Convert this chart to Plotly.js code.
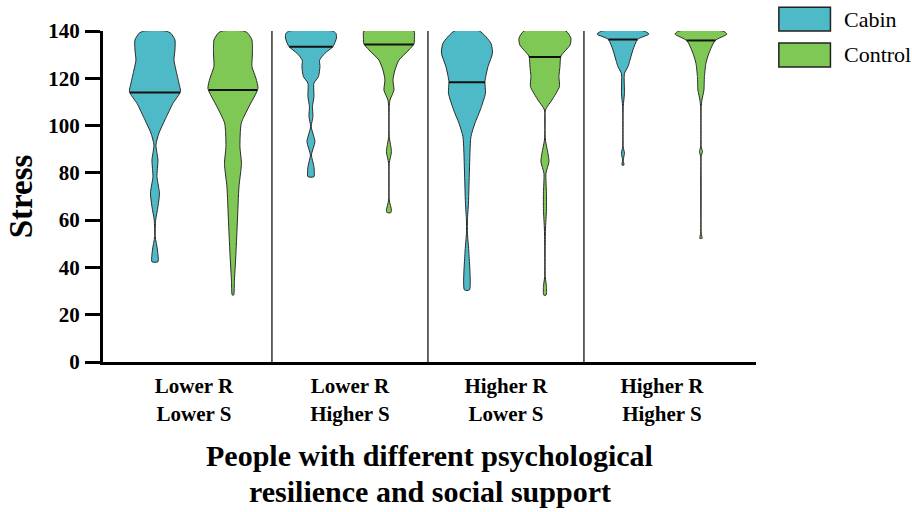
<!DOCTYPE html>
<html>
<head>
<meta charset="utf-8">
<script src="https://cdn.plot.ly/plotly-3.0.1.min.js"></script>
<style>html,body{margin:0;padding:0;background:#fff;}#chart{width:912px;height:512px;}</style>
</head>
<body>
<div id="chart"></div>
<script>
// ---- Data ----
var groups = ["Lower R<br>Lower S", "Lower R<br>Higher S", "Higher R<br>Lower S", "Higher R<br>Higher S"];
var seriesNames = ["Cabin", "Control"];
var yTicks = [0, 20, 40, 60, 80, 100, 120, 140];

// Stress levels (y) and relative density (half-width) for each violin
var cabin1_y = [140, 139, 136.2, 132, 127.7, 123.5, 117.9, 114.3, 109.4, 102.4, 96.8, 91.8, 85.4, 78.4, 71.4, 65.7, 60, 53, 47.4, 42.4];
var cabin1_d = [11, 16, 20, 20, 19, 21, 24, 25.5, 18, 10, 4, 1, 3, 2, 4.5, 3, 0.7, 0.3, 2.5, 3];
var control1_y = [140, 139, 136.2, 130.6, 125, 120, 115.7, 108, 101, 91, 84, 74, 60, 46, 34.7, 28.3];
var control1_d = [11, 15, 19, 19.5, 19, 23, 25, 16, 8.3, 7, 8.5, 6, 4.5, 3, 1.5, 0.7];

var cabin2_y = [140, 139, 137, 133.4, 130.6, 127.7, 124.9, 120.7, 117.9, 112.2, 108, 103.8, 99.5, 93.2, 87.6, 82.6, 78.4];
var cabin2_d = [21.7, 25, 25.5, 22, 14, 8.7, 9, 7.5, 3, 3, 1.5, 2, 0.3, 4, 0.5, 3, 3];
var control2_y = [140, 137, 134.5, 132, 127.7, 123.5, 119.3, 115, 110.8, 108, 95.3, 89, 84, 68.5, 64.3, 63.2];
var control2_d = [25, 25.5, 25, 20, 10, 6, 4, 5, 1, 0.3, 0.3, 2.5, 0.3, 0.3, 2.5, 2];

var cabin3_y = [140, 134.8, 130.6, 124.9, 118.6, 113.7, 106.6, 101, 95.3, 81.2, 67.2, 60, 54.5, 46, 30.5];
var cabin3_d = [12.5, 24, 25.5, 21, 18, 18.5, 13.3, 8, 4, 2.5, 1.5, 0.5, 0.5, 2, 2.5];
var control3_y = [140, 136.9, 134, 129.4, 124.9, 120.7, 116.5, 110.8, 106.6, 93.9, 88.3, 84.7, 79.8, 71.4, 64.3, 55.8, 36.1, 31.9, 28.3];
var control3_d = [21, 26, 25, 16, 15, 14, 14.5, 7, 0.5, 0.5, 3, 4, 1, 1.5, 1.5, 0.5, 0.3, 1.5, 1.2];

var cabin4_y = [140, 138.7, 136.5, 132, 127.7, 124.9, 122, 113.7, 108, 91, 88.3, 85.4, 83.3];
var cabin4_d = [21, 26, 14.7, 10, 7, 5, 1.5, 1.5, 0.3, 0.3, 1.5, 0.3, 1];
var control4_y = [140, 138.7, 135.9, 130.6, 126.4, 120.7, 115, 110.8, 108, 91, 89, 86.9, 54.4, 52.3];
var control4_d = [22, 26, 14, 8, 5, 3.5, 3, 1, 0.3, 0.3, 1.5, 0.3, 0.3, 1.2];

// Medians
var cabinMedian = [114, 133.3, 118.3, 136.4];
var controlMedian = [115, 134.3, 129, 136];

var cabinColor = "#4FBAC7";
var controlColor = "#80C855";
var outline = "#2b2b2b";

var densScale = 1 / 156;   // relative density -> category units
var offset = 0.25;

function interp(ys, ds, y) {
  for (var i = 0; i < ys.length - 1; i++) {
    var a = ys[i], b = ys[i + 1];
    if ((y <= a && y >= b)) {
      var t = (a - y) / (a - b);
      return ds[i] + t * (ds[i + 1] - ds[i]);
    }
  }
  return 0;
}

function violin(center, ys, ds, color) {
  var x = [], y = [];
  for (var i = 0; i < ys.length; i++) { x.push(center + ds[i] * densScale); y.push(ys[i]); }
  for (var j = ys.length - 1; j >= 0; j--) { x.push(center - ds[j] * densScale); y.push(ys[j]); }
  x.push(x[0]); y.push(y[0]);
  return {
    type: "scatter", mode: "lines", x: x, y: y, fill: "toself", fillcolor: color,
    line: {color: outline, width: 1, shape: "spline", smoothing: 0.6},
    hoverinfo: "skip", showlegend: false
  };
}

function medianLine(center, ys, ds, m) {
  var hw = interp(ys, ds, m) * densScale;
  return {
    type: "scatter", mode: "lines", x: [center - hw, center + hw], y: [m, m],
    line: {color: "#111", width: 2}, hoverinfo: "skip", showlegend: false
  };
}

var cabinY = [cabin1_y, cabin2_y, cabin3_y, cabin4_y];
var cabinD = [cabin1_d, cabin2_d, cabin3_d, cabin4_d];
var controlY = [control1_y, control2_y, control3_y, control4_y];
var controlD = [control1_d, control2_d, control3_d, control4_d];

var traces = [];
for (var g = 0; g < groups.length; g++) {
  traces.push(violin(g - offset, cabinY[g], cabinD[g], cabinColor));
  traces.push(violin(g + offset, controlY[g], controlD[g], controlColor));
}
for (var g2 = 0; g2 < groups.length; g2++) {
  traces.push(medianLine(g2 - offset, cabinY[g2], cabinD[g2], cabinMedian[g2]));
  traces.push(medianLine(g2 + offset, controlY[g2], controlD[g2], controlMedian[g2]));
}

var shapes = [];
for (var s = 0; s < groups.length - 1; s++) {
  shapes.push({type: "line", xref: "x", yref: "paper", x0: s + 0.5, x1: s + 0.5, y0: 0, y1: 1,
    line: {color: "#333", width: 1.5}});
}
// manual legend boxes
shapes.push({type: "rect", xref: "paper", yref: "paper", x0: 1.035, x1: 1.114, y0: 1.0, y1: 1.072,
  fillcolor: cabinColor, line: {color: "#222", width: 1.5}});
shapes.push({type: "rect", xref: "paper", yref: "paper", x0: 1.035, x1: 1.114, y0: 0.891, y1: 0.964,
  fillcolor: controlColor, line: {color: "#222", width: 1.5}});

var serif = "Liberation Serif, Times New Roman, serif";
var annotations = [
  {xref: "paper", yref: "paper", x: 1.131, y: 1.036, xanchor: "left", yanchor: "middle", showarrow: false,
   text: seriesNames[0], font: {family: serif, size: 22, color: "#000"}},
  {xref: "paper", yref: "paper", x: 1.131, y: 0.928, xanchor: "left", yanchor: "middle", showarrow: false,
   text: seriesNames[1], font: {family: serif, size: 22, color: "#000"}},
  {xref: "paper", yref: "paper", x: 0.5, y: -0.283, xanchor: "center", yanchor: "middle", showarrow: false,
   text: "<b>People with different psychological</b>", font: {family: serif, size: 30, color: "#000"}},
  {xref: "paper", yref: "paper", x: 0.5, y: -0.39, xanchor: "center", yanchor: "middle", showarrow: false,
   text: "<b>resilience and social support</b>", font: {family: serif, size: 30, color: "#000"}}
];

var layout = {
  width: 912, height: 512,
  margin: {l: 103, r: 156, t: 31, b: 150},
  paper_bgcolor: "#fff", plot_bgcolor: "#fff",
  showlegend: false,
  xaxis: {
    range: [-0.583, 3.603], tickmode: "array", tickvals: [0, 1, 2, 3],
    ticktext: groups.map(function (t) { return "<b>" + t.replace("<br>", "</b><br><b>") + "</b>"; }),
    showgrid: false, zeroline: false, showline: true, linecolor: "#000", linewidth: 3,
    ticks: "", ticklabelstandoff: 3,
    tickfont: {family: serif, size: 21, color: "#000"}
  },
  yaxis: {
    range: [0, 140], tickmode: "array", tickvals: yTicks,
    ticktext: yTicks.map(function (v) { return "<b>" + v + "</b>"; }),
    showgrid: false, zeroline: false, showline: true, linecolor: "#000", linewidth: 3,
    ticks: "outside", ticklen: 15, tickwidth: 3, tickcolor: "#000", ticklabelstandoff: 1,
    tickfont: {family: serif, size: 21, color: "#000"},
    title: {text: "<b>Stress</b>", font: {family: serif, size: 33, color: "#000"}, standoff: 6}
  },
  shapes: shapes,
  annotations: annotations
};

Plotly.newPlot("chart", traces, layout, {displayModeBar: false, staticPlot: true});
</script>
</body>
</html>
